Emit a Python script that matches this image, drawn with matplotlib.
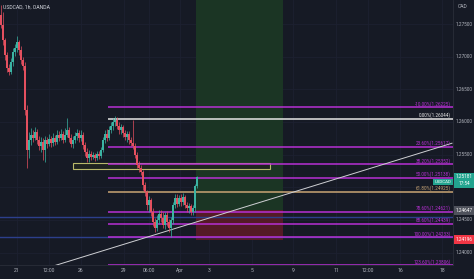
import matplotlib
matplotlib.use("Agg")
import matplotlib.pyplot as plt
import numpy as np
from matplotlib.patches import Rectangle

# USDCAD 1h candles
first_open = 1.27638
closes = [1.27485, 1.27255, 1.27025, 1.26825, 1.26764, 1.26917, 1.27071, 1.27132, 1.27224, 1.27101,
          1.26948, 1.26856, 1.26181, 1.25568, 1.25721, 1.25798, 1.25752, 1.25844, 1.25721, 1.25629,
          1.25690, 1.25568, 1.25721, 1.25660, 1.25736, 1.25675, 1.25752, 1.25690, 1.25798, 1.25752,
          1.25813, 1.25721, 1.25798, 1.25874, 1.25752, 1.25660, 1.25721, 1.25782, 1.25828, 1.25752,
          1.25798, 1.25644, 1.25537, 1.25445, 1.25506, 1.25460, 1.25491, 1.25445, 1.25506, 1.25476,
          1.25568, 1.25721, 1.25813, 1.25752, 1.25874, 1.25936, 1.25997, 1.26028, 1.25936, 1.25874,
          1.25920, 1.25828, 1.25767, 1.25813, 1.25721, 1.25675, 1.25629, 1.25491, 1.25338, 1.25292,
          1.25230, 1.25031, 1.24923, 1.24724, 1.24801, 1.24617, 1.24463, 1.24371, 1.24494, 1.24586,
          1.24525, 1.24417, 1.24571, 1.24463, 1.24371, 1.24494, 1.24724, 1.24831, 1.24739, 1.24831,
          1.24770, 1.24847, 1.24724, 1.24678, 1.24709, 1.24617, 1.24678, 1.25015, 1.25150]
highs = [1.27791, 1.27684, 1.27285, 1.27071, 1.26887, 1.26979, 1.27132, 1.27193, 1.27316, 1.27255,
         1.27163, 1.26994, 1.26917, 1.26258, 1.25844, 1.25905, 1.25874, 1.25920, 1.25890, 1.25782,
         1.25767, 1.25752, 1.25782, 1.25767, 1.25813, 1.25782, 1.25828, 1.25798, 1.25874, 1.25859,
         1.25890, 1.25859, 1.25905, 1.26058, 1.25920, 1.25813, 1.25782, 1.25844, 1.25890, 1.25874,
         1.25874, 1.25844, 1.25690, 1.25598, 1.25568, 1.25552, 1.25537, 1.25522, 1.25552, 1.25552,
         1.25614, 1.25767, 1.25874, 1.25890, 1.25936, 1.25997, 1.26058, 1.26089, 1.26074, 1.25997,
         1.25966, 1.25951, 1.25874, 1.25859, 1.25859, 1.25767, 1.26028, 1.25675, 1.25537, 1.25399,
         1.25338, 1.25261, 1.25077, 1.24954, 1.24862, 1.24831, 1.24678, 1.24525, 1.24571, 1.24647,
         1.24647, 1.24617, 1.24617, 1.24632, 1.24509, 1.24540, 1.24770, 1.24893, 1.24893, 1.24877,
         1.24893, 1.24908, 1.24877, 1.24770, 1.24755, 1.24739, 1.24724, 1.25046, 1.25169]
lows = [1.27439, 1.27178, 1.26948, 1.26764, 1.26718, 1.26733, 1.26856, 1.27009, 1.27071, 1.27025,
        1.26887, 1.26795, 1.26104, 1.25292, 1.25445, 1.25644, 1.25690, 1.25721, 1.25660, 1.25568,
        1.25537, 1.25414, 1.25384, 1.25598, 1.25629, 1.25614, 1.25629, 1.25644, 1.25660, 1.25706,
        1.25721, 1.25675, 1.25690, 1.25767, 1.25690, 1.25614, 1.25598, 1.25675, 1.25721, 1.25690,
        1.25706, 1.25583, 1.25476, 1.25384, 1.25384, 1.25414, 1.25430, 1.25399, 1.25414, 1.25430,
        1.25445, 1.25537, 1.25675, 1.25706, 1.25721, 1.25828, 1.25874, 1.25936, 1.25890, 1.25813,
        1.25813, 1.25767, 1.25721, 1.25690, 1.25660, 1.25629, 1.25583, 1.25445, 1.25292, 1.25230,
        1.25184, 1.24954, 1.24862, 1.24647, 1.24617, 1.24555, 1.24402, 1.24310, 1.24325, 1.24433,
        1.24463, 1.24371, 1.24356, 1.24402, 1.24310, 1.24233, 1.24433, 1.24678, 1.24693, 1.24709,
        1.24709, 1.24724, 1.24678, 1.24617, 1.24601, 1.24571, 1.24571, 1.24617, 1.24985]

# fibonacci retracement
fib_top = 1.26044
fib_bottom = 1.24233
fib_levels = [-0.1, 0.0, 0.236, 0.382, 0.5, 0.618, 0.786, 0.886, 1.0, 1.236]
fib_start = 53.5

# long position tool
entry_price = 1.24647
stop_price = 1.24196
target_price = 1.2830
pos_start, pos_end = 97.5, 141

# zone box and lines
zone_low, zone_high = 1.25276, 1.25368
zone_start, zone_end = 36, 134.5
blue_levels = [1.24540, 1.24233]
trend_x = [25.5, 225.5]
trend_y = [1.23788, 1.25675]
last_price = 1.25181

price_ticks = [1.24, 1.245, 1.255, 1.26, 1.265, 1.27, 1.275]
time_pos = [8, 24, 40, 61.5, 74, 89.5, 104, 125.5, 146, 167.5, 183.5, 199.5, 220.5]
time_labels = ['21', '12:00', '26', '29', '06:00', 'Apr', '3', '5', '9', '11', '12:00', '16', '18']

bg = '#161a25'
txt = '#b2b5be'
up_col, dn_col = '#3bb3a3', '#e4505f'
fib_col = '#b730d4'
scale_x = 231.75

plt.rcParams['font.family'] = ['Roboto', 'DejaVu Sans']

fig = plt.figure(figsize=(4.74, 2.79), dpi=100, facecolor=bg)
ax = fig.add_axes([0, 14 / 279, 453 / 474, 265 / 279], facecolor=bg)
ax.set_xlim(-0.5, 226)
ax.set_ylim(1.23810, 1.27868)

# grid
for t in time_pos:
    ax.axvline(t, color='#1d2130', lw=0.6, zorder=0)
for p in price_ticks + [1.25]:
    ax.axhline(p, color='#1d2130', lw=0.6, zorder=0)

# long position zones
ax.add_patch(Rectangle((pos_start, entry_price), pos_end - pos_start, target_price - entry_price,
                       facecolor='#1b3524', edgecolor='none', zorder=1))
ax.add_patch(Rectangle((pos_start, stop_price), pos_end - pos_start, entry_price - stop_price,
                       facecolor='#541a27', edgecolor='none', zorder=1))

# blue horizontal lines
for p in blue_levels:
    ax.axhline(p, color='#2c3f8c', lw=1.0, zorder=2)

# zone rectangle
ax.add_patch(Rectangle((zone_start, zone_low), zone_end - zone_start, zone_high - zone_low,
                       facecolor='#1f2320', edgecolor='#b9b96a', lw=0.8, zorder=2))

# fib levels
rng = fib_top - fib_bottom
for lv in fib_levels:
    p = fib_top - lv * rng
    if lv == 0.0:
        c = '#e6e6e6'
    elif lv == 0.618:
        c = '#c9a574'
    else:
        c = fib_col
    ax.plot([fib_start, 226], [p, p], color=c, lw=1.1, zorder=3, solid_capstyle='butt')
    ax.text(225, p + 0.00012, '%.2f%%(%.5f)' % (lv * 100, p), color=c, fontsize=3.3,
            ha='right', va='bottom', zorder=6, clip_on=True)

# trend line
ax.plot(trend_x, trend_y, color='#cfd0d4', lw=0.7, zorder=4)

# candles
opens = [first_open] + closes[:-1]
x = np.arange(len(closes))
for i in x:
    o, c, h, l = opens[i], closes[i], highs[i], lows[i]
    col = up_col if c >= o else dn_col
    ax.vlines(i, l, h, color=col, lw=0.5, zorder=5)
    ax.add_patch(Rectangle((i - 0.4, min(o, c)), 0.8, max(abs(c - o), 0.00003),
                           facecolor=col, edgecolor='none', zorder=5))

# axes styling
for s in ax.spines.values():
    s.set_visible(False)
ax.spines['right'].set_visible(True)
ax.spines['right'].set_color('#2a2e39')
ax.spines['right'].set_linewidth(0.6)
ax.spines['bottom'].set_visible(True)
ax.spines['bottom'].set_color('#2a2e39')
ax.spines['bottom'].set_linewidth(0.6)
ax.set_yticks([])
ax.set_xticks(time_pos)
ax.set_xticklabels(time_labels)
ax.tick_params(axis='x', length=0, labelsize=3.6, labelcolor=txt, pad=2.5)

# price scale labels
for p in price_ticks:
    ax.text(scale_x, p, '%.5f' % p, fontsize=3.4, color=txt, ha='center', va='center',
            clip_on=False)

# title
ax.text(0.006, 0.972, 'USDCAD, 1h, OANDA', transform=ax.transAxes, fontsize=3.7,
        color='#d1d4dc', ha='left', va='center')
fig.text(463 / 474, 1 - 6 / 279, 'CAD', fontsize=3.6, color=txt, ha='center', va='center')

# price labels on the scale
def price_box(p, label, face):
    ax.text(scale_x, p, label, fontsize=3.4, color='white', ha='center', va='center',
            linespacing=1.3,
            bbox=dict(boxstyle='square,pad=0.4', facecolor=face, edgecolor='none'),
            clip_on=False, zorder=10)

price_box(last_price - 0.0007, '1.25181\n17:54', '#23a48f')
price_box(entry_price, '%.5f' % entry_price, '#4f525c')
price_box(stop_price, '%.5f' % stop_price, '#f23645')
ax.text(225.3, last_price - 0.0010, 'USDCAD', fontsize=3.2, color='white', ha='right', va='center',
        bbox=dict(boxstyle='square,pad=0.3', facecolor='#23a48f', edgecolor='none'), zorder=10)

fig.savefig('out.png', dpi=100, facecolor=bg)
